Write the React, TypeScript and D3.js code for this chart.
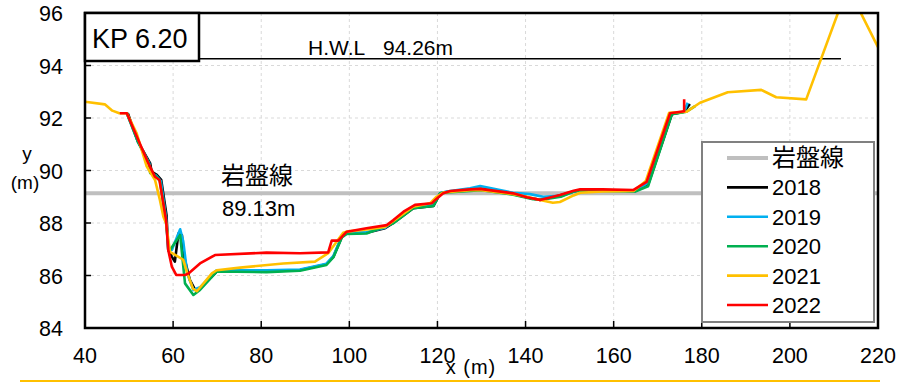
import React, { useEffect, useRef } from 'react';
import * as d3 from 'd3';

const width = 899;
const height = 382;
const plot = { left: 85, right: 878, top: 13, bottom: 328 };

const xTicks = [40, 60, 80, 100, 120, 140, 160, 180, 200, 220];
const yTicks = [84, 86, 88, 90, 92, 94, 96];

const years = ['2018', '2019', '2020', '2021', '2022'];
const yearColors = ['#000000', '#00B0F0', '#00B050', '#FFC000', '#FF0000'];

const bedrock = 89.13;
const hwl = 94.26;
const hwlEnd = 211.6;

const s2018 = [
  [49.5, 92.18], [49.8, 92.15], [52.0, 91.1], [54.8, 90.27], [55.1, 89.96], [56.3, 89.83], [57.3, 89.64],
  [58.5, 88.3], [58.9, 86.97], [59.7, 86.72], [60.4, 86.53], [61.2, 87.6], [62.0, 87.54], [62.3, 86.85],
  [63.8, 85.83], [65.0, 85.45], [66.1, 85.5], [69.9, 86.15], [81.2, 86.15], [88.8, 86.21], [94.8, 86.43],
  [96.4, 86.72], [98.3, 87.48], [99.4, 87.6], [103.9, 87.63], [108.1, 87.8], [110, 88.0], [114.5, 88.56],
  [119.1, 88.65], [120.6, 89.13], [122.1, 89.18], [127.4, 89.28], [130, 89.3], [137.2, 89.1], [141, 88.95],
  [143.3, 88.88], [147.8, 89.05], [150.9, 89.2], [152.4, 89.25], [157.5, 89.25], [164.9, 89.22],
  [167.8, 89.45], [173.2, 92.14], [176, 92.24], [177.3, 92.53]
];

const s2019 = [
  [49.5, 92.18], [52.0, 91.1], [54.6, 90.27], [55.0, 89.9], [56.2, 89.8], [57.2, 89.6], [58.4, 88.2],
  [58.9, 86.97], [59.7, 86.97], [61.6, 87.76], [62.3, 87.3], [63.2, 86.08], [64.6, 85.45], [66.1, 85.55],
  [69.9, 86.2], [81.2, 86.2], [88.8, 86.23], [94.8, 86.45], [96.4, 86.75], [98.3, 87.5], [99.4, 87.62],
  [103.9, 87.65], [108.1, 87.82], [110, 88.05], [114.5, 88.6], [119.1, 88.7], [120.6, 89.13], [122.1, 89.2],
  [127.4, 89.32], [129.7, 89.41], [137.2, 89.15], [141, 89.1], [144, 89.0], [148.5, 89.05], [150.9, 89.2],
  [152.4, 89.25], [157.5, 89.25], [164.9, 89.22], [167.5, 89.5], [172.9, 92.15], [176, 92.24], [176.8, 92.58]
];

const s2020 = [
  [49.5, 92.18], [52.0, 91.1], [54.5, 90.27], [54.8, 89.9], [56.0, 89.8], [57.0, 89.6], [58.3, 88.2],
  [59.0, 87.0], [59.3, 86.97], [61.6, 87.54], [62.7, 85.7], [64.6, 85.26], [66.1, 85.45], [69.9, 86.15],
  [81.2, 86.13], [88.8, 86.18], [94.8, 86.4], [96.4, 86.7], [98.3, 87.45], [99.4, 87.58], [103.9, 87.6],
  [107, 87.8], [110, 87.99], [114.5, 88.56], [119.1, 88.65], [120.6, 89.13], [122.1, 89.16], [127.4, 89.22],
  [130, 89.25], [137.2, 89.08], [141.7, 88.91], [144, 88.9], [148, 89.0], [150.9, 89.2], [152.4, 89.25],
  [157.5, 89.22], [164.9, 89.2], [167.8, 89.4], [173.2, 92.14], [176.5, 92.24], [178.5, 92.45]
];

const s2021 = [
  [40, 92.62], [44.5, 92.52], [46.2, 92.28], [47.8, 92.18], [49.5, 92.18], [51.7, 91.43], [54.0, 90.16],
  [55.9, 89.64], [57.0, 88.88], [57.8, 88.24], [58.4, 87.99], [59.3, 86.9], [62.3, 86.6], [63.2, 86.1],
  [64.5, 85.5], [65.4, 85.4], [68.8, 86.08], [69.9, 86.2], [75.2, 86.3], [85.0, 86.46], [92.2, 86.53],
  [95.2, 86.85], [98.6, 87.63], [99.4, 87.67], [103.9, 87.75], [108.1, 87.85], [110, 88.08], [114.5, 88.62],
  [118.3, 88.75], [119.8, 89.0], [121.3, 89.16], [127.4, 89.25], [130, 89.25], [137.2, 89.1], [140.3, 89.0],
  [143.3, 88.88], [146.2, 88.77], [147.8, 88.8], [150.9, 89.05], [152.4, 89.15], [157.5, 89.2],
  [164.5, 89.22], [167.3, 89.6], [172.6, 92.2], [176.6, 92.24], [179.6, 92.58], [185.9, 92.98],
  [193.5, 93.07], [196.9, 92.79], [203.7, 92.71], [213.1, 97.0], [220, 94.7]
];

const s2022 = [
  [47.9, 92.18], [49.5, 92.18], [52.0, 91.2], [54.4, 90.27], [55.9, 89.76], [56.9, 89.64], [58.4, 88.11],
  [58.9, 86.97], [59.7, 86.34], [60.7, 86.02], [62.7, 86.02], [63.5, 86.08], [66.1, 86.46], [69.5, 86.78],
  [81.2, 86.87], [88.8, 86.85], [95.2, 86.88], [96.0, 87.33], [97.5, 87.33], [99.4, 87.67], [103.9, 87.8],
  [108.5, 87.92], [110, 88.11], [112.3, 88.43], [114.9, 88.69], [118.7, 88.75], [119.5, 88.88],
  [121.3, 89.13], [122.9, 89.22], [127.4, 89.28], [129.7, 89.3], [137.2, 89.13], [140.3, 88.98],
  [143.3, 88.88], [147.8, 89.07], [150.9, 89.23], [152.4, 89.28], [157.5, 89.28], [164.5, 89.26],
  [167.5, 89.57], [172.8, 92.18], [176, 92.26], [176, 92.71]
];

const seriesData = [s2018, s2019, s2020, s2021, s2022];

const font = "'Liberation Sans', Arial, 'Noto Sans CJK JP', sans-serif";
const cjkFont = "'Noto Sans CJK JP', sans-serif";

export default function App() {
  const ref = useRef<SVGSVGElement>(null);

  useEffect(() => {
    const svg = d3.select(ref.current);
    svg.selectAll('*').remove();

    const xScale = d3.scaleLinear().domain([40, 220]).range([plot.left, plot.right]);
    const yScale = d3.scaleLinear().domain([84, 96]).range([plot.bottom, plot.top]);

    svg.append('defs')
      .append('clipPath')
      .attr('id', 'plot-clip')
      .append('rect')
      .attr('x', plot.left)
      .attr('y', plot.top)
      .attr('width', plot.right - plot.left)
      .attr('height', plot.bottom - plot.top);

    // grid
    const grid = svg.append('g')
      .attr('stroke', '#d9d9d9')
      .attr('stroke-width', 1)
      .attr('stroke-dasharray', '3,3');
    grid.selectAll('.gx')
      .data(xTicks.slice(1, -1))
      .enter()
      .append('line')
      .attr('x1', d => xScale(d))
      .attr('x2', d => xScale(d))
      .attr('y1', plot.top)
      .attr('y2', plot.bottom);
    grid.selectAll('.gy')
      .data(yTicks.slice(1, -1))
      .enter()
      .append('line')
      .attr('x1', plot.left)
      .attr('x2', plot.right)
      .attr('y1', d => yScale(d))
      .attr('y2', d => yScale(d));

    // bedrock line
    svg.append('line')
      .attr('x1', xScale(40))
      .attr('x2', xScale(220))
      .attr('y1', yScale(bedrock))
      .attr('y2', yScale(bedrock))
      .attr('stroke', '#BFBFBF')
      .attr('stroke-width', 4);

    // H.W.L line
    svg.append('line')
      .attr('x1', xScale(40))
      .attr('x2', xScale(hwlEnd))
      .attr('y1', yScale(hwl))
      .attr('y2', yScale(hwl))
      .attr('stroke', '#000')
      .attr('stroke-width', 1.5);

    // series
    const line = d3.line<number[]>()
      .x(d => xScale(d[0]))
      .y(d => yScale(d[1]));

    const lines = svg.append('g').attr('clip-path', 'url(#plot-clip)');
    seriesData.forEach((s, i) => {
      lines.append('path')
        .attr('d', line(s))
        .attr('fill', 'none')
        .attr('stroke', yearColors[i])
        .attr('stroke-width', 2.6)
        .attr('stroke-linejoin', 'round');
    });

    // frame
    svg.append('rect')
      .attr('x', plot.left)
      .attr('y', plot.top)
      .attr('width', plot.right - plot.left)
      .attr('height', plot.bottom - plot.top)
      .attr('fill', 'none')
      .attr('stroke', '#000')
      .attr('stroke-width', 2.5);

    // inner ticks
    const ticks = svg.append('g').attr('stroke', '#000').attr('stroke-width', 1.5);
    ticks.selectAll('.tx')
      .data(xTicks.slice(1, -1))
      .enter()
      .append('line')
      .attr('x1', d => xScale(d))
      .attr('x2', d => xScale(d))
      .attr('y1', plot.bottom)
      .attr('y2', plot.bottom - 7);
    ticks.selectAll('.ty')
      .data(yTicks.slice(1, -1))
      .enter()
      .append('line')
      .attr('x1', plot.left)
      .attr('x2', plot.left + 6)
      .attr('y1', d => yScale(d))
      .attr('y2', d => yScale(d));

    // tick labels
    svg.append('g')
      .selectAll('text')
      .data(xTicks)
      .enter()
      .append('text')
      .attr('x', d => xScale(d))
      .attr('y', 363)
      .attr('text-anchor', 'middle')
      .style('font-family', font)
      .style('font-size', '21.5px')
      .text(d => d);
    svg.append('g')
      .selectAll('text')
      .data(yTicks)
      .enter()
      .append('text')
      .attr('x', 63)
      .attr('y', d => yScale(d) + 8)
      .attr('text-anchor', 'end')
      .style('font-family', font)
      .style('font-size', '21.5px')
      .text(d => d);

    // axis labels
    svg.append('text')
      .attr('x', 27)
      .attr('y', 160)
      .attr('text-anchor', 'middle')
      .style('font-family', font)
      .style('font-size', '19px')
      .text('y');
    svg.append('text')
      .attr('x', 25)
      .attr('y', 189)
      .attr('text-anchor', 'middle')
      .style('font-family', font)
      .style('font-size', '19px')
      .text('(m)');
    svg.append('text')
      .attr('x', 471)
      .attr('y', 374)
      .attr('text-anchor', 'middle')
      .style('font-family', font)
      .style('font-size', '20px')
      .style('letter-spacing', '1px')
      .text('x (m)');

    // KP box
    svg.append('rect')
      .attr('x', plot.left)
      .attr('y', plot.top)
      .attr('width', 114)
      .attr('height', 48)
      .attr('fill', '#fff')
      .attr('stroke', '#000')
      .attr('stroke-width', 2.5);
    svg.append('text')
      .attr('x', 92)
      .attr('y', 48)
      .style('font-family', font)
      .style('font-size', '27px')
      .text('KP 6.20');

    // H.W.L label
    svg.append('text')
      .attr('x', 308)
      .attr('y', 55)
      .style('font-family', font)
      .style('font-size', '21px')
      .text('H.W.L');
    svg.append('text')
      .attr('x', 383)
      .attr('y', 55)
      .style('font-family', font)
      .style('font-size', '21px')
      .text('94.26m');

    // bedrock label
    svg.append('text')
      .attr('x', 221)
      .attr('y', 184)
      .style('font-family', cjkFont)
      .style('font-size', '24px')
      .text('岩盤線');
    svg.append('text')
      .attr('x', 222)
      .attr('y', 216)
      .style('font-family', font)
      .style('font-size', '22px')
      .text(`${bedrock}m`);

    // legend
    const legend = svg.append('g');
    legend.append('rect')
      .attr('x', 702)
      .attr('y', 142)
      .attr('width', 172)
      .attr('height', 180)
      .attr('fill', '#fff')
      .attr('stroke', '#808080')
      .attr('stroke-width', 2);
    const legendItems = [{ label: '岩盤線', color: '#BFBFBF', w: 4 }]
      .concat(years.map((y, i) => ({ label: y, color: yearColors[i], w: 2.6 })));
    legendItems.forEach((item, i) => {
      const ly = 158 + i * 29.4;
      legend.append('line')
        .attr('x1', 727)
        .attr('x2', 768)
        .attr('y1', ly)
        .attr('y2', ly)
        .attr('stroke', item.color)
        .attr('stroke-width', item.w);
      legend.append('text')
        .attr('x', 772)
        .attr('y', ly + 8)
        .style('font-family', i === 0 ? cjkFont : font)
        .style('font-size', i === 0 ? '24px' : '22px')
        .text(item.label);
    });

    // bottom rule
    svg.append('line')
      .attr('x1', 20)
      .attr('x2', 880)
      .attr('y1', 381)
      .attr('y2', 381)
      .attr('stroke', '#FFC000')
      .attr('stroke-width', 2);
  }, []);

  return <svg ref={ref} width={width} height={height}
    style={{ position: 'absolute', left: 0, top: 0, background: '#fff' }} />;
}
